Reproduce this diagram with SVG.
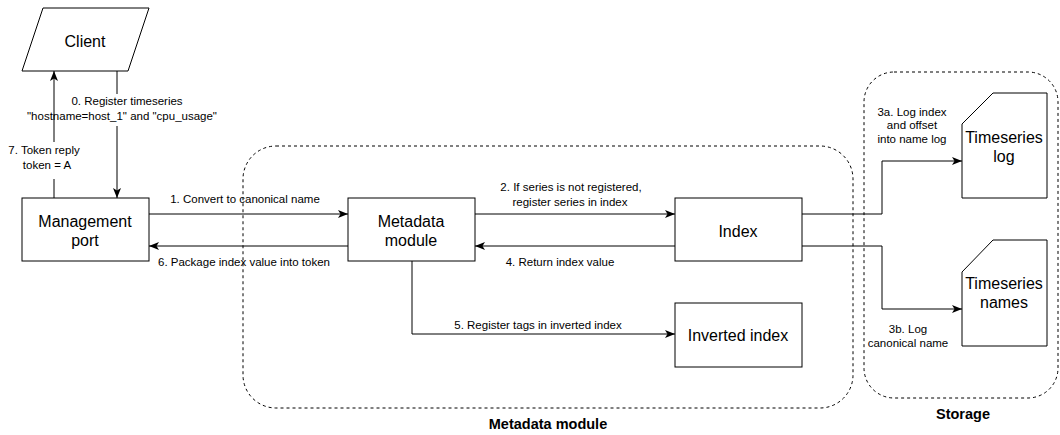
<svg xmlns="http://www.w3.org/2000/svg" width="1060" height="435" viewBox="0 0 1060 435">
<style>
.node{fill:#fff;stroke:#000;stroke-width:1}
.cont{fill:none;stroke:#000;stroke-width:1;stroke-dasharray:3 3}
.edge{fill:none;stroke:#000;stroke-width:1;marker-end:url(#arr)}
.nt{font-family:"Liberation Sans",Arial,sans-serif;font-size:16px;fill:#000;text-anchor:middle}
.et{font-family:"Liberation Sans",Arial,sans-serif;font-size:11.5px;fill:#000;text-anchor:middle}
.ct{font-family:"Liberation Sans",Arial,sans-serif;font-size:14.5px;font-weight:bold;fill:#000;text-anchor:middle}
</style>
<defs>
<marker id="arr" markerUnits="userSpaceOnUse" markerWidth="10" markerHeight="10" viewBox="0 0 10 10" refX="10" refY="5" orient="auto">
<path d="M0,1 L10,5 L0,9 L2.5,5 z" fill="#000"/>
</marker>
</defs>
<rect width="1060" height="435" fill="#fff"/>

<g id="connectors">
<polyline class="edge" points="117,71 117,198"/>
<g id="label-0">
<rect x="20" y="94" width="203" height="32" fill="#fff"/>
<text class="et" x="127" y="105">0. Register timeseries</text>
<text class="et" x="122" y="120">"hostname=host_1" and "cpu_usage"</text>
</g>
<polyline class="edge" points="54,198 54,71"/>
<g id="label-7">
<rect x="7" y="142" width="75" height="37" fill="#fff"/>
<text class="et" x="44" y="154">7. Token reply</text>
<text class="et" x="47" y="169">token = A</text>
</g>
<polyline class="edge" points="149,214 348,214"/>
<text class="et" x="245" y="203">1. Convert to canonical name</text>
<polyline class="edge" points="348,246 149,246"/>
<text class="et" x="244" y="266">6. Package index value into token</text>
<polyline class="edge" points="475,214 675,214"/>
<text class="et" x="571" y="191">2. If series is not registered,</text>
<text class="et" x="570" y="206">register series in index</text>
<polyline class="edge" points="675,246 475,246"/>
<text class="et" x="560" y="266">4. Return index value</text>
<polyline class="edge" points="412,261 412,334 675,334"/>
<text class="et" x="538" y="329">5. Register tags in inverted index</text>
<polyline class="edge" points="802,214 882,214 882,161 962,161"/>
<text class="et" x="912" y="116">3a. Log index</text>
<text class="et" x="912" y="129">and offset</text>
<text class="et" x="912" y="143">into name log</text>
<polyline class="edge" points="802,246 882,246 882,309 962,309"/>
<text class="et" x="908" y="333">3b. Log</text>
<text class="et" x="908" y="347">canonical name</text>
</g>

<g id="metadata-container">
<rect class="cont" x="243" y="146" width="610" height="262" rx="33" ry="33"/>
<text class="ct" x="548" y="429">Metadata module</text>
</g>
<g id="storage-container">
<rect class="cont" x="864" y="72" width="194" height="326" rx="30" ry="30"/>
<text class="ct" x="963" y="419">Storage</text>
</g>

<g id="client">
<polygon class="node" points="43,8 149,8 128,71 22,71"/>
<text class="nt" x="85" y="47">Client</text>
</g>
<g id="management-port">
<rect class="node" x="22" y="198" width="127" height="63"/>
<text class="nt" x="85" y="227">Management</text>
<text class="nt" x="85" y="246">port</text>
</g>
<g id="metadata-module">
<rect class="node" x="348" y="198" width="127" height="63"/>
<text class="nt" x="411" y="227">Metadata</text>
<text class="nt" x="411" y="246">module</text>
</g>
<g id="index">
<rect class="node" x="675" y="198" width="127" height="63"/>
<text class="nt" x="738" y="237">Index</text>
</g>
<g id="inverted-index">
<rect class="node" x="675" y="303" width="127" height="64"/>
<text class="nt" x="738" y="341">Inverted index</text>
</g>
<g id="timeseries-log">
<polygon class="node" points="993,93 1047,93 1047,198 962,198 962,124"/>
<text class="nt" x="1004" y="143">Timeseries</text>
<text class="nt" x="1004" y="162">log</text>
</g>
<g id="timeseries-names">
<polygon class="node" points="993,240 1047,240 1047,346 962,346 962,272"/>
<text class="nt" x="1004" y="289">Timeseries</text>
<text class="nt" x="1004" y="308">names</text>
</g>
</svg>
